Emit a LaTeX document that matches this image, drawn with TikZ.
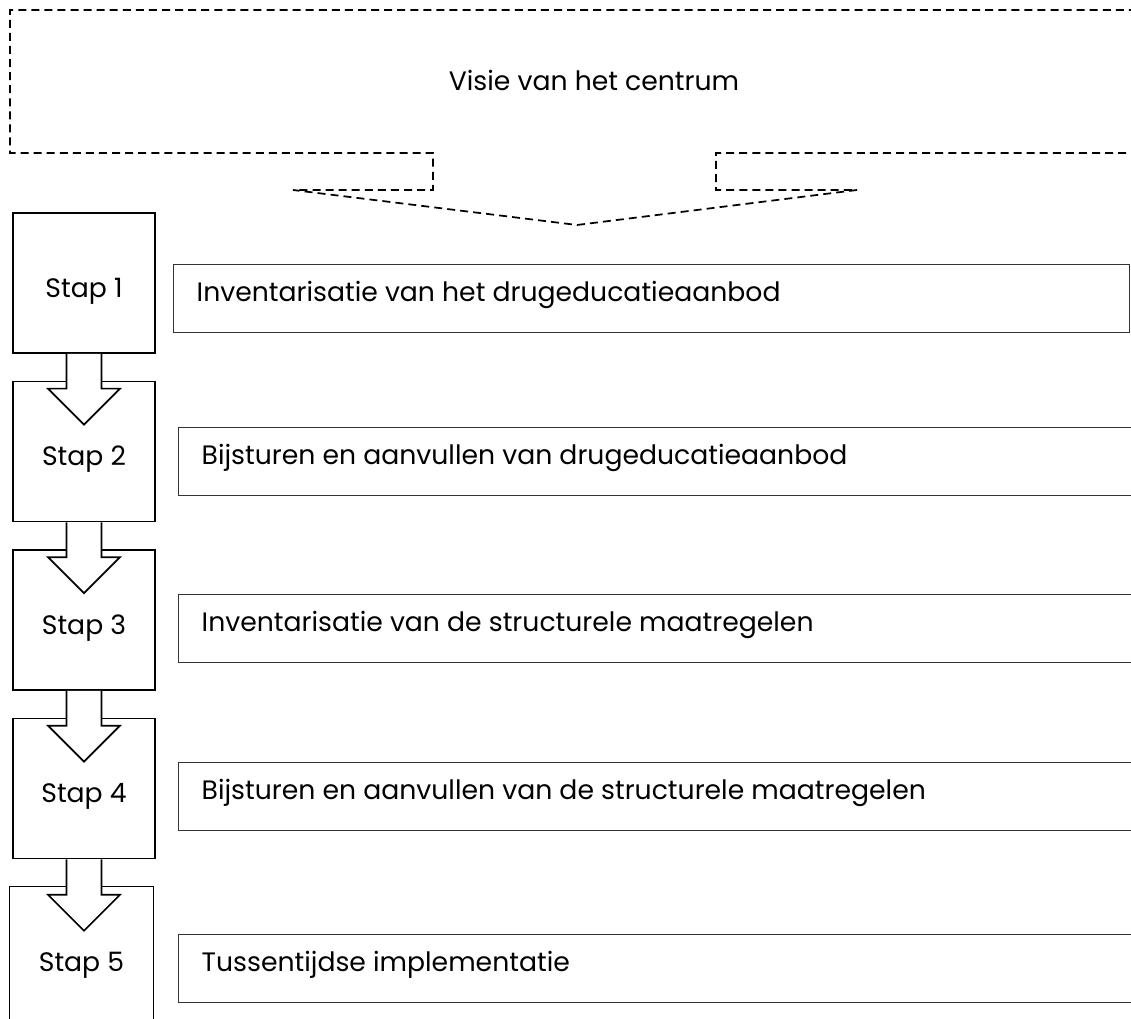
\documentclass[tikz,border=0pt]{standalone}
\usepackage{fontspec}
\setmainfont{Poppins}
\usepackage{tikz}
\usetikzlibrary{calc}

\tikzset{
  stapbox/.style={draw,line width=1.3pt,minimum width=106.5pt,minimum height=105pt,inner sep=0pt},
  taakbox/.style={draw=black!80,line width=1pt,minimum height=51pt,inner sep=0pt,anchor=north west},
  tekst/.style={font=\fontsize{20}{24}\selectfont},
  taaktekst/.style={tekst,anchor=west},
  stappijl/.style={draw,fill=white,line width=1.3pt,line join=miter},
  visielijn/.style={line width=1.3pt,dash pattern=on 6pt off 3.8pt},
}

\begin{document}
\begin{tikzpicture}[x=0.75pt,y=-0.75pt]
  \useasboundingbox (0,0) rectangle (1131,1019);
  \clip (0,0) rectangle (1131,1019);
  % visie van het centrum
  \node[tekst] (visie) at (594,80) {Visie van het centrum};
  \draw[visielijn] (1150,10) -- (10,10) -- (10,153) -- (433,153) -- (433,190) -- (293,190)
    -- (577,225) -- (857,190) -- (716,190) -- (716,153) -- (1150,153);
  % stappen
  \foreach \i/\y in {1/283,2/451.5,3/620,4/788.5}
    \node[stapbox] (stap\i) at (84,\y) {};
  \node[minimum width=107.25pt,minimum height=105pt,inner sep=0pt] (stap5) at (81.5,957) {};
  \draw[line width=0.9pt] ($(stap5.north west)+(0,150)$) -- (stap5.north west) -- (stap5.north east) -- ($(stap5.north east)+(0,150)$);
  \foreach \i in {1,...,5}
    \node[tekst] at ($(stap\i)+(0,8)$) {Stap \i};
  % pijlen tussen de stappen
  \foreach \i/\j in {1/2,2/3,3/4,4/5}{
    \coordinate (kop\j) at (stap\i.south |- stap\j.north);
    \path[stappijl] ($(stap\i.south)+(-17.5,0)$) -- ($(kop\j)+(-17.5,8)$)
      -- ($(kop\j)+(-36,8)$) -- ($(kop\j)+(0,44)$) -- ($(kop\j)+(36,8)$)
      -- ($(kop\j)+(17.5,8)$) -- ($(stap\i.south)+(17.5,0)$);
  }
  % taken
  \node[taakbox,minimum width=717pt] (taak1) at (173,264) {};
  \foreach \i/\y in {2/427,3/594,4/762,5/934}
    \node[taakbox,minimum width=735pt] (taak\i) at (178,\y) {};
  \node[taaktekst] at ($(taak1.west)+(19,-4)$) {Inventarisatie van het drugeducatieaanbod};
  \node[taaktekst] at ($(taak2.west)+(19,-4)$) {Bijsturen en aanvullen van drugeducatieaanbod};
  \node[taaktekst] at ($(taak3.west)+(19,-4)$) {Inventarisatie van de structurele maatregelen};
  \node[taaktekst] at ($(taak4.west)+(19,-4)$) {Bijsturen en aanvullen van de structurele maatregelen};
  \node[taaktekst] at ($(taak5.west)+(19,-4)$) {Tussentijdse implementatie};
\end{tikzpicture}
\end{document}
